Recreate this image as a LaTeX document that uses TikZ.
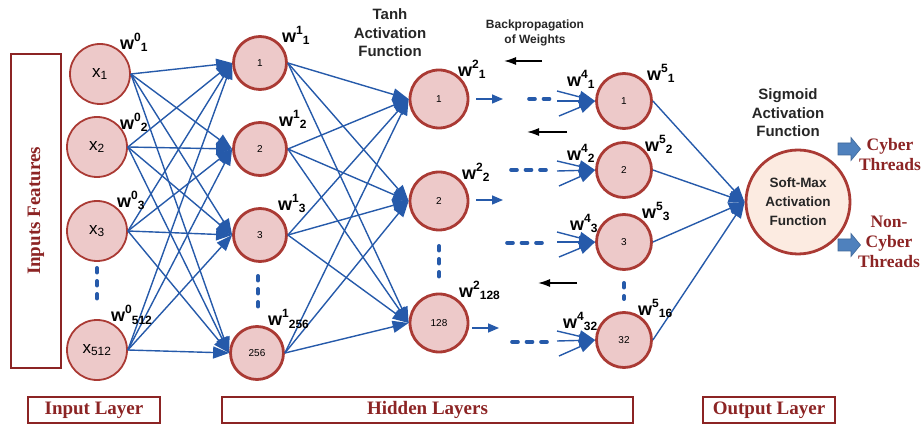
\documentclass[tikz,border=0pt]{standalone}
\usepackage{fontspec}
\setmainfont{Liberation Serif}
\setsansfont{Liberation Sans}
\usetikzlibrary{arrows.meta}

\definecolor{nfill}{RGB}{237,201,201}
\definecolor{nedge}{RGB}{170,58,52}
\definecolor{wire}{RGB}{38,90,170}
\definecolor{lbl}{RGB}{140,36,36}
\definecolor{softfill}{RGB}{252,235,225}
\definecolor{blk}{RGB}{79,129,189}

% weight label: w with staggered superscript and subscript
\newcommand{\wlab}[2]{{\sffamily\bfseries\fontsize{18}{18}\selectfont w\raisebox{8pt}{\fontsize{12}{12}\selectfont #1}\raisebox{-2pt}{\fontsize{12}{12}\selectfont #2}}}

% block arrow pointing right, starting at the given point
\newcommand{\blockarrow}[1]{%
  \filldraw[draw=blk!80!black, fill=blk, line width=0.6pt]
    (#1) ++(0,-6) -- ++(13,0) -- ++(0,-5.5) -- ++(9.5,11.5) -- ++(-9.5,11.5) -- ++(0,-5.5) -- ++(-13,0) -- cycle;}

\tikzset{
  innode/.style={circle, draw=nedge, fill=nfill, line width=1.8pt, minimum size=60pt, inner sep=0pt,
    font=\sffamily\fontsize{17}{17}\selectfont},
  hidnode/.style={circle, draw=nedge, fill=nfill, line width=2.8pt, minimum size=53pt, inner sep=0pt,
    font=\sffamily\fontsize{10}{10}\selectfont},
  wirearrow/.style={draw=wire, line width=1.4pt, -{Triangle[length=16pt,width=12pt]}},
  shortarrow/.style={draw=wire, line width=1.5pt, -{Triangle[length=11pt,width=9pt]}},
  hdots/.style={draw=wire, line width=3.6pt, line cap=round, dash pattern=on 6pt off 8.5pt},
  vdots/.style={draw=wire, line width=4pt, line cap=round, dash pattern=on 4.5pt off 8.5pt},
  backarrow/.style={draw=black, line width=1.5pt, -{Latex[length=12pt,width=8pt]}},
  wnode/.style={anchor=base west, inner sep=0pt},
  headtext/.style={font=\sffamily\bfseries\fontsize{15}{18.5}\selectfont, align=center, text=black!85},
  layerbox/.style={draw=lbl, line width=1.5pt, inner sep=0pt, text=lbl,
    font=\rmfamily\bfseries\fontsize{19}{19}\selectfont},
  classtext/.style={text=lbl, font=\rmfamily\bfseries\fontsize{17.5}{20}\selectfont, align=center}
}

\begin{document}
\begin{tikzpicture}[x=1pt,y=-1pt]
\useasboundingbox (0,0) rectangle (923,427);

% input layer
\node[innode] (in1) at (100,74) {x\textsubscript{1}};
\node[innode] (in2) at (97,147) {x\textsubscript{2}};
\node[innode] (in3) at (97,231) {x\textsubscript{3}};
\node[innode] (in4) at (97,350) {x\textsubscript{512}};

% first hidden layer
\node[hidnode] (a1) at (260,63) {1};
\node[hidnode] (a2) at (260,149) {2};
\node[hidnode] (a3) at (260,235) {3};
\node[hidnode] (a4) at (257,353) {256};

% second hidden layer (tanh)
\node[hidnode, minimum size=58pt] (b1) at (439,99) {1};
\node[hidnode, minimum size=58pt] (b2) at (439,201) {2};
\node[hidnode, minimum size=58pt] (b3) at (439,323) {128};

% last hidden layer
\node[hidnode, minimum size=55pt] (c1) at (624,101) {1};
\node[hidnode, minimum size=55pt] (c2) at (624,170) {2};
\node[hidnode, minimum size=55pt] (c3) at (624,242) {3};
\node[hidnode, minimum size=55pt] (c4) at (624,340) {32};

% soft-max output unit
\node[circle, draw=nedge, fill=softfill, line width=2.8pt, minimum size=104pt, inner sep=0pt,
  font=\sffamily\bfseries\fontsize{13.5}{19}\selectfont, align=center, text=black!85]
  (soft) at (798,202) {Soft-Max\\Activation\\Function};

% full connections input -> hidden 1 -> hidden 2
\foreach \i in {1,...,4}
  \foreach \j in {1,...,4}
    \draw[wirearrow] (in\i.east) -- (a\j.west);
\foreach \i in {1,...,4}
  \foreach \j in {1,...,3}
    \draw[wirearrow] (a\i.east) -- (b\j.west);

% fan-in arrows into the last hidden layer
\foreach \n/\y in {1/101,2/171,3/242,4/341}{
  \coordinate (fa\n) at (557,\y-10);
  \coordinate (fb\n) at (557,\y);
  \coordinate (fc\n) at (559,\y+15);
  \draw[wirearrow] (fa\n) -- (c\n.west);
  \draw[wirearrow] (fb\n) -- (c\n.west);
  \draw[wirearrow] (fc\n) -- (c\n.west);
}

% last hidden layer -> soft-max
\foreach \n in {1,...,4}
  \draw[wirearrow] (c\n.east) -- (soft.west);

% short forward arrows leaving the tanh layer
\coordinate (s1a) at (476,99);  \coordinate (s1b) at (503,99);
\coordinate (s2a) at (476,200); \coordinate (s2b) at (503,200);
\coordinate (s3a) at (472,328); \coordinate (s3b) at (499,328);
\draw[shortarrow] (s1a) -- (s1b);
\draw[shortarrow] (s2a) -- (s2b);
\draw[shortarrow] (s3a) -- (s3b);

% horizontal ellipses between hidden layers
\coordinate (d1a) at (529,99);  \coordinate (d1b) at (550,99);
\coordinate (d2a) at (511,170); \coordinate (d2b) at (546,170);
\coordinate (d3a) at (507,243); \coordinate (d3b) at (544,243);
\coordinate (d4a) at (512,342); \coordinate (d4b) at (547,342);
\draw[hdots] (d1a) -- (d1b);
\draw[hdots] (d2a) -- (d2b);
\draw[hdots] (d3a) -- (d3b);
\draw[hdots] (d4a) -- (d4b);

% vertical ellipses inside layers
\coordinate (v1a) at (97,268);  \coordinate (v1b) at (97,302);
\coordinate (v2a) at (258,276); \coordinate (v2b) at (258,310);
\coordinate (v3a) at (439,246); \coordinate (v3b) at (439,280);
\coordinate (v4a) at (624,283); \coordinate (v4b) at (624,299);
\draw[vdots] (v1a) -- (v1b);
\draw[vdots] (v2a) -- (v2b);
\draw[vdots] (v3a) -- (v3b);
\draw[vdots] (v4a) -- (v4b);

% backpropagation arrows
\coordinate (k1a) at (542,61);  \coordinate (k1b) at (504,61);
\coordinate (k2a) at (567,132); \coordinate (k2b) at (527,132);
\coordinate (k3a) at (577,283); \coordinate (k3b) at (538,283);
\draw[backarrow] (k1a) -- (k1b);
\draw[backarrow] (k2a) -- (k2b);
\draw[backarrow] (k3a) -- (k3b);

% weight labels
\node[wnode] (w01) at (120,50) {\wlab{0}{1}};
\node[wnode] (w02) at (120,130) {\wlab{0}{2}};
\node[wnode] (w03) at (117,208) {\wlab{0}{3}};
\node[wnode] (w04) at (111,322) {\wlab{0}{512}};
\node[wnode] (w11) at (282,43) {\wlab{1}{1}};
\node[wnode] (w12) at (279,127) {\wlab{1}{2}};
\node[wnode] (w13) at (278,211) {\wlab{1}{3}};
\node[wnode] (w14) at (268,326) {\wlab{1}{256}};
\node[wnode] (w21) at (458,77) {\wlab{2}{1}};
\node[wnode] (w22) at (462,180) {\wlab{2}{2}};
\node[wnode] (w23) at (459,298) {\wlab{2}{128}};
\node[wnode] (w41) at (567,87) {\wlab{4}{1}};
\node[wnode] (w42) at (567,161) {\wlab{4}{2}};
\node[wnode] (w43) at (570,231) {\wlab{4}{3}};
\node[wnode] (w44) at (563,328) {\wlab{4}{32}};
\node[wnode] (w51) at (647,81) {\wlab{5}{1}};
\node[wnode] (w52) at (645,152) {\wlab{5}{2}};
\node[wnode] (w53) at (642,219) {\wlab{5}{3}};
\node[wnode] (w54) at (638,316) {\wlab{5}{16}};

% headings
\node[headtext] (tanh) at (390,33) {Tanh\\Activation\\Function};
\node[headtext] (sigm) at (788,113) {Sigmoid\\Activation\\Function};
\node[headtext, font=\sffamily\bfseries\fontsize{12}{15}\selectfont] (bp) at (535,33)
  {Backpropagation\\of Weights};

% class outputs
\coordinate (arrcy) at (838,149);
\coordinate (arrnc) at (838,245);
\blockarrow{arrcy}
\blockarrow{arrnc}
\node[classtext] (cyber) at (890,155) {Cyber\\Threads};
\node[classtext] (noncy) at (889,242) {Non-\\Cyber\\Threads};

% layer captions
\node[layerbox, rotate=90, minimum width=314pt, minimum height=50pt] (feat) at (36,211) {Inputs Features};
\node[layerbox, minimum width=132pt, minimum height=26pt] (inl) at (94,410) {Input Layer};
\node[layerbox, minimum width=411pt, minimum height=26pt] (hidl) at (427.5,410) {Hidden Layers};
\node[layerbox, minimum width=132pt, minimum height=26pt] (outl) at (769,410) {Output Layer};
\end{tikzpicture}
\end{document}
